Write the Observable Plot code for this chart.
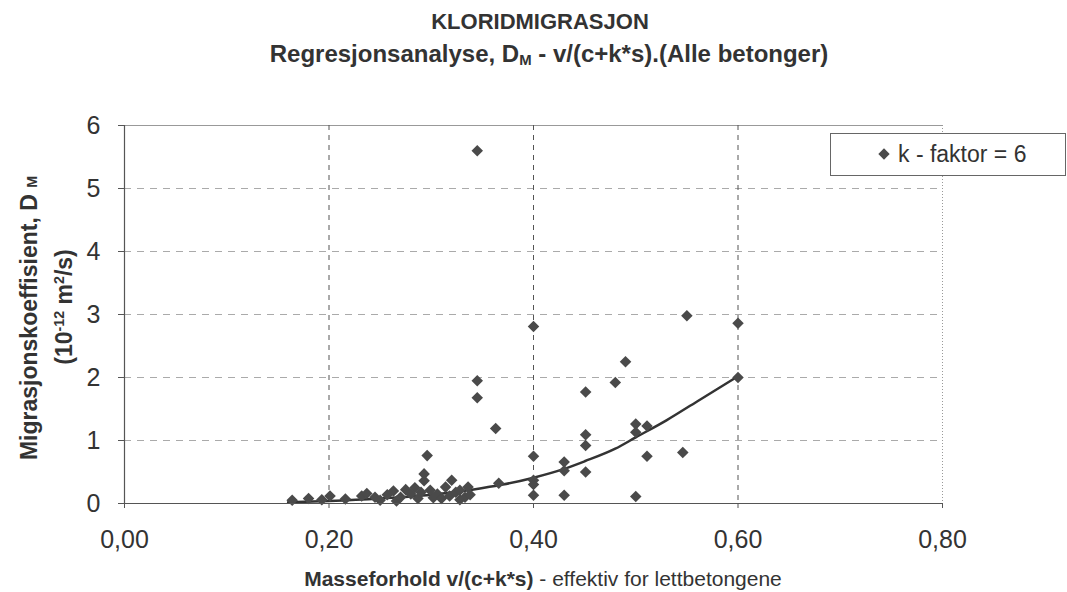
<!DOCTYPE html>
<html>
<head>
<meta charset="utf-8">
<script src="https://cdn.jsdelivr.net/npm/d3@7"></script>
<script src="https://cdn.jsdelivr.net/npm/@observablehq/plot@0.6"></script>
<style>
  html, body { margin: 0; padding: 0; background: #fff; }
  #wrap { position: relative; width: 1067px; height: 592px; font-family: "Liberation Sans", Arial, sans-serif; color: #333; overflow: hidden; }
  .t { position: absolute; white-space: nowrap; line-height: 1; }
  #title { left: 540px; top: 11px; transform: translateX(-50%); font-size: 22px; font-weight: bold; }
  #title2 { left: 549px; top: 42px; transform: translateX(-50%); font-size: 24px; font-weight: bold; }
  .ylab { transform: translate(-50%, -50%) rotate(-90deg); font-size: 23px; font-weight: bold; }
  #ylab1 { left: 29px; top: 318px; }
  #ylab2 { left: 64px; top: 307px; }
  #xlab { left: 543px; top: 568px; transform: translateX(-50%); font-size: 21px; }
  #legend { left: 830px; top: 133px; width: 236px; height: 43px; border: 1px solid #666; background: #fff; box-sizing: border-box; }
  #legtext { position: absolute; left: 67px; top: 9px; font-size: 23px; line-height: 1; }
  #legsym { position: absolute; left: 49px; top: 16px; width: 8px; height: 8px; background: #4a4a4a; transform: rotate(45deg); }
  sub, sup { font-size: 62%; }
</style>
</head>
<body>
<div id="wrap">
  <div id="chart"></div>
  <div class="t" id="title">KLORIDMIGRASJON</div>
  <div class="t" id="title2">Regresjonsanalyse, D<sub style="vertical-align:-3px">M</sub> - v/(c+k*s).(Alle betonger)</div>
  <div class="t ylab" id="ylab1">Migrasjonskoeffisient, D <span style="font-size:62%">M</span></div>
  <div class="t ylab" id="ylab2">(10<sup>-12</sup> m<sup>2</sup>/s)</div>
  <div class="t" id="xlab"><b>Masseforhold v/(c+k*s)</b> - effektiv for lettbetongene</div>
  <div class="t" id="legend"><div id="legsym"></div><div id="legtext">k - faktor = 6</div></div>
</div>
<script>
// Measured points: v/(c+k*s) ratio and migration coefficient D_M (10^-12 m2/s)
const ratio = [0.164,0.180,0.193,0.201,0.216,
  0.232,0.237,0.245,0.250,0.257,0.263,0.266,0.270,0.275,0.280,0.284,0.287,0.290,0.293,0.293,0.296,0.299,0.302,0.306,0.310,0.314,0.318,0.320,0.324,0.328,0.328,0.333,0.336,0.338,
  0.345,0.345,0.345,0.363,0.366,0.400,0.400,0.400,0.400,0.400,0.430,0.430,0.430,0.451,0.451,0.451,0.451,0.480,0.490,0.500,0.500,0.500,0.511,0.511,0.546,0.550,0.600,0.600];
const dm = [0.05,0.08,0.06,0.12,0.07,
  0.12,0.16,0.10,0.05,0.14,0.20,0.04,0.10,0.22,0.15,0.25,0.08,0.18,0.36,0.47,0.76,0.21,0.09,0.15,0.08,0.26,0.12,0.37,0.18,0.21,0.06,0.10,0.26,0.14,
  5.60,1.95,1.68,1.19,0.32,2.81,0.75,0.37,0.30,0.13,0.66,0.52,0.13,1.77,1.09,0.92,0.50,1.92,2.25,1.26,1.13,0.11,1.23,0.75,0.81,2.98,2.86,2.00];
// Regression curve
const trendX = [0.16,0.20,0.25,0.30,0.34,0.37,0.40,0.43,0.45,0.48,0.50,0.53,0.56,0.60];
const trendY = [0.02,0.04,0.08,0.14,0.22,0.30,0.41,0.55,0.67,0.87,1.05,1.32,1.62,2.02];
const xTicks = [0, 0.2, 0.4, 0.6, 0.8];
const yTicks = [0, 1, 2, 3, 4, 5, 6];

const points = ratio.map((x, i) => ({x, y: dm[i]}));
const trend = trendX.map((x, i) => ({x, y: trendY[i]}));
const fmt = d => d.toFixed(2).replace(".", ",");

const chart = Plot.plot({
  width: 1067,
  height: 592,
  marginLeft: 124,
  marginRight: 125,
  marginTop: 125,
  marginBottom: 89,
  style: {fontFamily: "'Liberation Sans', Arial, sans-serif", fontSize: "25px", color: "#333", background: "transparent"},
  x: {domain: [0, 0.8]},
  y: {domain: [0, 6]},
  marks: [
    Plot.ruleY([1, 2, 3, 4, 5], {stroke: "#aaa", strokeDasharray: "7,6", strokeWidth: 1}),
    Plot.ruleY([6], {stroke: "#999", strokeWidth: 1}),
    Plot.ruleX([0.2, 0.4, 0.6], {stroke: "#555", strokeDasharray: "5,5", strokeWidth: 1}),
    Plot.ruleX([0.8], {stroke: "#999", strokeDasharray: "1,2", strokeWidth: 1}),
    Plot.line(trend, {x: "x", y: "y", curve: "monotone-x", stroke: "#333", strokeWidth: 2.5}),
    Plot.dot(points, {x: "x", y: "y", symbol: "diamond2", r: 5.2, fill: "#4a4a4a", stroke: "none"}),
    Plot.ruleY([0], {stroke: "#555", strokeWidth: 1.2}),
    Plot.ruleX([0], {stroke: "#555", strokeWidth: 1.2}),
    Plot.axisX({ticks: xTicks, tickFormat: fmt, tickSize: 5, tickPadding: 22, label: null, stroke: "#555"}),
    Plot.axisY({ticks: yTicks, tickFormat: d => String(d), tickSize: 6, tickPadding: 18, label: null, stroke: "#555"})
  ]
});
document.getElementById("chart").appendChild(chart);
</script>
</body>
</html>
